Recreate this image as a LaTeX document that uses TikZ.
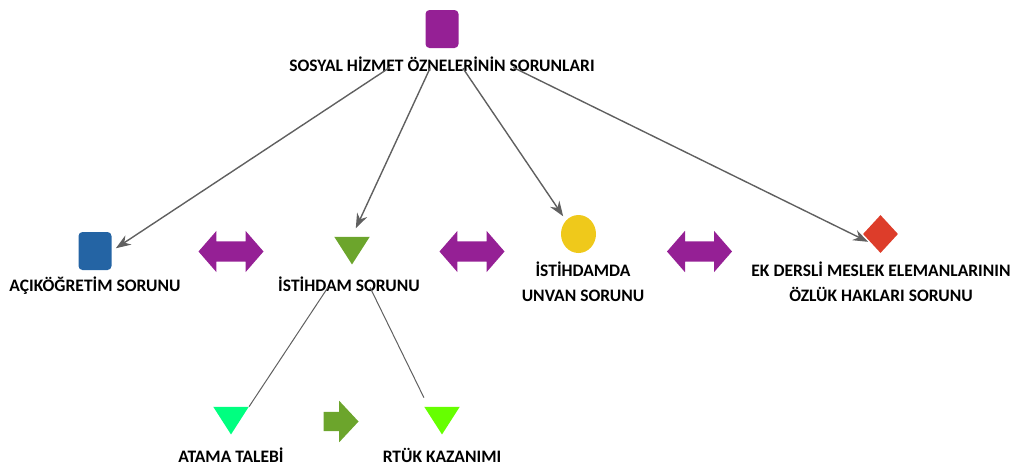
\documentclass[tikz,border=0pt]{standalone}
\usepackage{fontspec}
\setmainfont{Carlito}
\usetikzlibrary{arrows.meta,shapes.geometric,shapes.arrows,positioning}

\definecolor{konupurple}{RGB}{149,32,149}
\definecolor{konublue}{RGB}{36,100,164}
\definecolor{konugreen}{RGB}{108,165,44}
\definecolor{konuyellow}{RGB}{239,201,27}
\definecolor{konured}{RGB}{221,61,42}
\definecolor{konuteal}{RGB}{0,255,128}
\definecolor{konulime}{RGB}{102,255,0}
\definecolor{konuline}{RGB}{96,96,96}

\tikzset{
  lbl/.style={font=\bfseries\fontsize{17.5}{25}\selectfont,align=center,inner sep=0pt,anchor=base},
  kare/.style={rectangle,rounded corners=4pt,minimum width=33pt,minimum height=38pt,inner sep=0pt},
  ucgen/.style={regular polygon,regular polygon sides=3,shape border rotate=180,minimum size=41pt,inner sep=0pt,yscale=0.9},
  cift/.style={double arrow,fill=konupurple,inner sep=10pt,minimum height=65pt,
    double arrow head extend=10.5pt,double arrow tip angle=98},
  tek/.style={single arrow,fill=konugreen,inner sep=9.5pt,minimum height=35pt,
    single arrow head extend=11pt,single arrow tip angle=94},
  bag/.style={draw=konuline,line width=1.4pt},
}

\begin{document}
\begin{tikzpicture}[x=1pt,y=-1pt,>={Stealth[length=15pt,width=11pt]}]
  \useasboundingbox (0,0) rectangle (1013,467);

  % ust dugum
  \node[kare,fill=konupurple] (sh) at (442,29) {};
  \node[lbl] (shl) at (442,71) {SOSYAL HİZMET ÖZNELERİNİN SORUNLARI};

  % ikinci satir
  \node[kare,fill=konublue] (ac) at (95,251) {};
  \node[lbl] (acl) at (95,291) {AÇIKÖĞRETİM SORUNU};
  \node[ucgen,fill=konugreen] (is) at (352,246) {};
  \node[lbl] (isl) at (349,291) {İSTİHDAM SORUNU};
  \node[ellipse,fill=konuyellow,minimum width=35pt,minimum height=38pt,inner sep=0pt] (un) at (578.5,234) {};
  \node[lbl] (unl) at (583,301) {İSTİHDAMDA\\UNVAN SORUNU};
  \node[diamond,fill=konured,minimum width=35pt,minimum height=38pt,inner sep=0pt] (ek) at (880.5,234) {};
  \node[lbl] (ekl) at (881,301.5) {EK DERSLİ MESLEK ELEMANLARININ\\ÖZLÜK HAKLARI SORUNU};

  \node[cift] (c1) at (231,251.5) {};
  \node[cift] (c2) at (472,251.5) {};
  \node[cift] (c3) at (699.5,251.5) {};

  % alt satir
  \node[ucgen,fill=konuteal] (at) at (231,416) {};
  \node[lbl] (atl) at (231,462) {ATAMA TALEBİ};
  \node[ucgen,fill=konulime] (rt) at (442,416) {};
  \node[lbl] (rtl) at (442,462) {RTÜK KAZANIMI};
  \node[tek] (t1) at (336.5,421.5) {};

  \draw[bag,->,shorten >=5pt] ([xshift=-52pt,yshift=4pt]shl.south) -- (ac.east);
  \draw[bag,->,shorten >=9pt] ([xshift=-12pt,yshift=3pt]shl.south) -- (is.north);
  \draw[bag,->,shorten >=5pt] ([xshift=21pt,yshift=3pt]shl.south) -- (un.north west);
  \draw[bag,->,shorten >=4pt] ([xshift=71pt,yshift=4pt]shl.south) -- (ek.south west);

  \draw[bag,line width=1pt] ([xshift=-21pt,yshift=4pt]isl.south) -- (at.corner 2);
  \draw[bag,line width=1pt] ([xshift=21pt,yshift=4pt]isl.south) -- ([yshift=9pt]rt.corner 3);
\end{tikzpicture}
\end{document}
